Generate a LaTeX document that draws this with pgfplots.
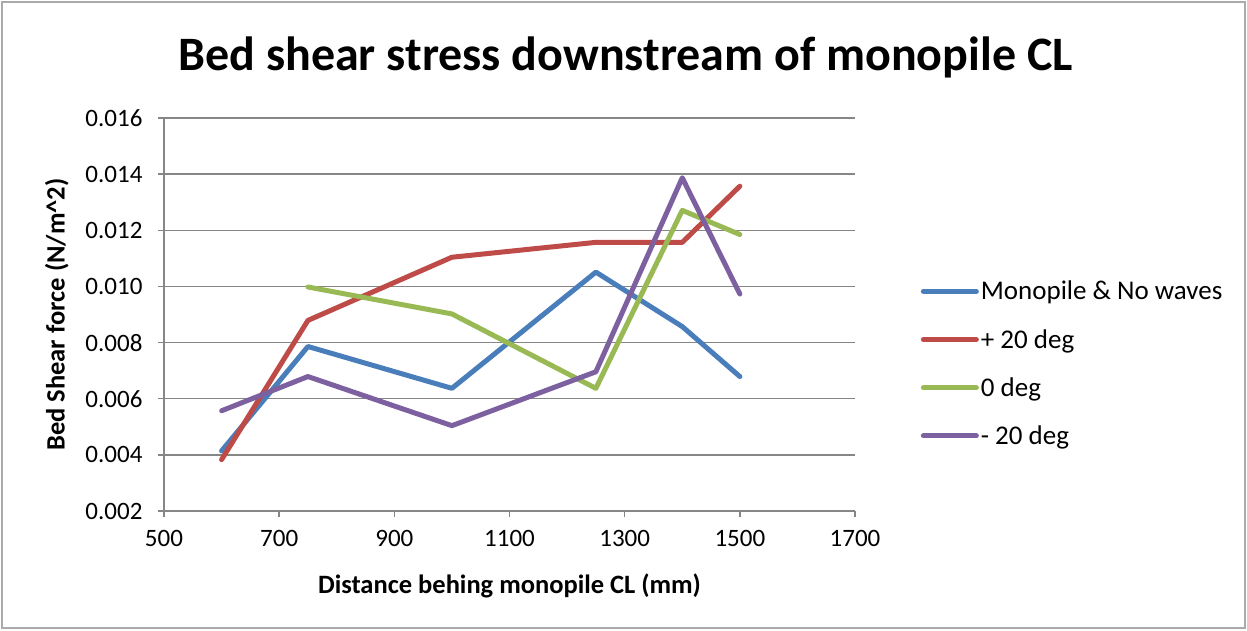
\documentclass[border=0pt]{standalone}
\usepackage{pgfplots}
\pgfplotsset{compat=1.18}
\usepackage{fontspec}
\setmainfont{Carlito}
\definecolor{cblue}{HTML}{4A7EBB}
\definecolor{cred}{HTML}{BE4B48}
\definecolor{cgreen}{HTML}{98B954}
\definecolor{cpurple}{HTML}{7D60A0}
\definecolor{cgrid}{HTML}{868686}
\begin{document}
\begin{tikzpicture}[x=1pt,y=1pt]
\path[use as bounding box] (0,0) rectangle (1247,630);
\draw[cgrid!70, line width=1.2pt] (2,2) rectangle (1245,628);
\begin{axis}[
  at={(164pt,119pt)}, anchor=south west,
  scale only axis, width=691pt, height=393pt,
  xmin=500, xmax=1700, ymin=0.002, ymax=0.016,
  xtick={500,700,...,1700}, ytick={0.002,0.004,...,0.0161},
  axis x line*=bottom, axis y line*=left,
  axis line style={cgrid, line width=1.5pt, -},
  tick style={cgrid, line width=1.5pt},
  tick align=outside, major tick length=6pt,
  ymajorgrids, grid style={cgrid, line width=1.5pt},
  /pgf/number format/assume math mode=true,
  x tick label style={font=\fontsize{25}{30}\selectfont, /pgf/number format/1000 sep={}},
  y tick label style={font=\fontsize{25}{30}\selectfont, /pgf/number format/.cd, fixed, fixed zerofill, precision=3},
  scaled y ticks=false,
  xticklabel shift=10pt, yticklabel shift=12pt,
  title={Bed shear stress downstream of monopile CL},
  title style={font=\bfseries\fontsize{48}{54}\selectfont, at={(axis description cs:0.668,1.138)}, anchor=center},
  xlabel={Distance behing monopile CL (mm)},
  xlabel style={font=\bfseries\fontsize{26.5}{30}\selectfont, at={(axis description cs:0.5,-0.19)}, anchor=center},
  ylabel={Bed Shear force (N/m\^{}2)},
  ylabel style={font=\bfseries\fontsize{26.5}{30}\selectfont, at={(axis description cs:-0.155,0.5)}, anchor=center},
  legend style={draw=none, fill=none, font=\fontsize{27}{32}\selectfont, at={(1.095,0.375)}, anchor=west, row sep=24pt, inner sep=0pt},
  legend cell align=left,
  legend image code/.code={\draw[#1, line width=5pt, line cap=round] (0pt,0pt) -- (53pt,0pt);},
  every axis plot/.append style={line width=5pt, line cap=round, line join=round},
]
\addplot[cblue] coordinates {(600,0.00414) (750,0.00786) (1000,0.00637) (1250,0.01051) (1400,0.00857) (1500,0.00679)};
\addlegendentry{Monopile \& No waves}
\addplot[cred] coordinates {(600,0.00383) (750,0.00879) (1000,0.01104) (1250,0.01157) (1400,0.01157) (1500,0.01357)};
\addlegendentry{+ 20 deg}
\addplot[cgreen] coordinates {(750,0.00998) (1000,0.00902) (1250,0.00637) (1400,0.01271) (1500,0.01185)};
\addlegendentry{0 deg}
\addplot[cpurple] coordinates {(600,0.00557) (750,0.00679) (1000,0.00504) (1250,0.00696) (1400,0.01387) (1500,0.00973)};
\addlegendentry{- 20 deg}
\end{axis}
\end{tikzpicture}
\end{document}
